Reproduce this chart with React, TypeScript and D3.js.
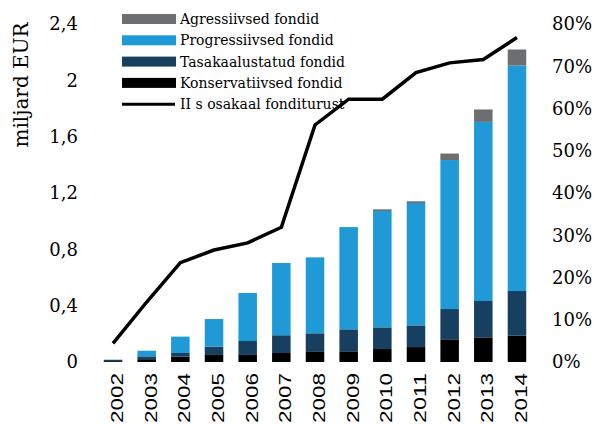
import React from "react";
import * as d3 from "d3";

const years = ["2002","2003","2004","2005","2006","2007","2008","2009","2010","2011","2012","2013","2014"];
const konservatiivsed = [0.006,0.02,0.038,0.05,0.05,0.064,0.076,0.076,0.092,0.106,0.161,0.175,0.187];
const tasakaalustatud = [0.01,0.02,0.026,0.059,0.099,0.126,0.128,0.156,0.154,0.154,0.215,0.258,0.317];
const progressiivsed = [0,0.04,0.116,0.196,0.341,0.513,0.539,0.726,0.826,0.869,1.058,1.272,1.601];
const agressiivsed = [0,0,0,0,0,0,0,0,0.012,0.012,0.046,0.088,0.114];
const osakaal = [0.044,0.142,0.235,0.265,0.282,0.319,0.561,0.622,0.622,0.685,0.708,0.716,0.768];
const leftTicks = [0,0.4,0.8,1.2,1.6,2,2.4];
const rightTicks = [0,0.1,0.2,0.3,0.4,0.5,0.6,0.7,0.8];

const seriesNames = ["Konservatiivsed fondid","Tasakaalustatud fondid","Progressiivsed fondid","Agressiivsed fondid"];
const seriesColors = ["#000000","#173f5f","#1f9ad6","#6d6e70"];
const lineName = "II s osakaal fonditurust";

export default function App() {
  const W = 598, H = 425;
  const x = d3.scaleBand<string>().domain(years).range([96.2, 533.8]).paddingInner(0.45).paddingOuter(0.225);
  const y = d3.scaleLinear().domain([0, 2.4]).range([362, 24]);
  const yr = d3.scaleLinear().domain([0, 0.8]).range([362, 24]);

  const rows = years.map((yr_, i) => ({
    year: yr_,
    k: konservatiivsed[i],
    t: tasakaalustatud[i],
    p: progressiivsed[i],
    a: agressiivsed[i],
  }));
  const stack = d3.stack<any>().keys(["k","t","p","a"]);
  const layers = stack(rows);

  const line = d3.line<number>()
    .x((_, i) => (x(years[i]) as number) + x.bandwidth() / 2)
    .y((d) => yr(d));

  const serif = "'DejaVu Serif', serif";
  const legendOrder = [3, 2, 1, 0];

  return (
    <svg width={W} height={H} style={{ position: "absolute", left: 0, top: 0, background: "#fff" }}>
      {layers.map((layer, li) => (
        <g key={li} fill={seriesColors[li]}>
          {layer.map((d, i) => {
            const h = y(d[0]) - y(d[1]);
            if (h <= 0) return null;
            return <rect key={i} x={x(years[i])} width={x.bandwidth()} y={y(d[1])} height={h} />;
          })}
        </g>
      ))}

      {leftTicks.map((t) => (
        <text key={t} x={78} y={y(t)} dy="0.35em" textAnchor="end" fontFamily={serif} fontSize={18} fill="#000">
          {d3.format(".1~f")(t).replace(".", ",")}
        </text>
      ))}
      {rightTicks.map((t) => (
        <text key={t} x={552} y={yr(t)} dy="0.35em" textAnchor="start" fontFamily={serif} fontSize={18} fill="#000">
          {d3.format(".0%")(t)}
        </text>
      ))}

      {years.map((yy) => {
        const cx = (x(yy) as number) + x.bandwidth() / 2 + 4;
        return (
          <text key={yy} transform={`translate(${cx},373) rotate(-90)`} dy="0.36em" textAnchor="end"
            fontFamily="'Liberation Sans', Arial, sans-serif" fontSize={17} textLength={50} lengthAdjust="spacingAndGlyphs" fill="#000">
            {yy}
          </text>
        );
      })}

      <text transform="translate(21,85) rotate(-90)" dy="0.35em" textAnchor="middle" fontFamily={serif} fontSize={20} fill="#000">
        miljard EUR
      </text>

      {legendOrder.map((si, r) => (
        <g key={si}>
          <rect x={122} y={14 + r * 21.3} width={54} height={10} fill={seriesColors[si]} />
          <text x={180} y={19 + r * 21.3} dy="0.35em" fontFamily={serif} fontSize={14} fill="#000">{seriesNames[si]}</text>
        </g>
      ))}
      <line x1={122} x2={175} y1={104.2} y2={104.2} stroke="#000" strokeWidth={3} />
      <text x={180} y={104.2} dy="0.35em" fontFamily={serif} fontSize={14} fill="#000">{lineName}</text>

      <path d={line(osakaal) || ""} fill="none" stroke="#000" strokeWidth={3.5} strokeLinejoin="miter" />
    </svg>
  );
}
